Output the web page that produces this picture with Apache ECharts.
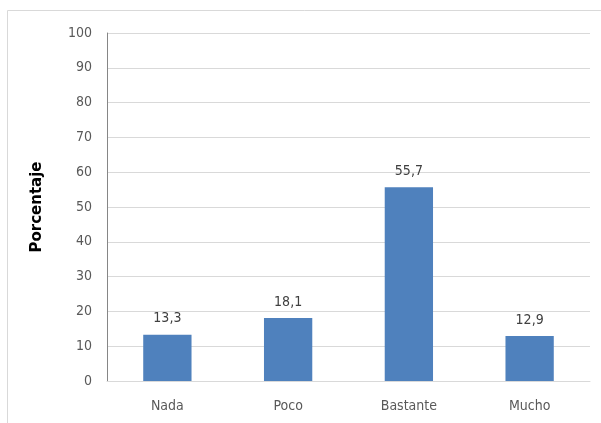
<!DOCTYPE html>
<html>
<head>
<meta charset="utf-8">
<script src="https://cdn.jsdelivr.net/npm/echarts@6/dist/echarts.min.js"></script>
<style>
  html, body { margin: 0; padding: 0; background: #fff; }
  #chart { width: 601px; height: 423px; }
</style>
</head>
<body>
<div id="chart"></div>
<script>
// datos
const categories = ["Nada", "Poco", "Bastante", "Mucho"];
const values = [13.3, 18.1, 55.7, 12.9];
const yTicks = [0, 10, 20, 30, 40, 50, 60, 70, 80, 90, 100];

const font = "'Liberation Sans Narrow', 'DejaVu Sans Condensed', sans-serif";

let chart = echarts.init(document.getElementById("chart"));

chart.setOption({
  animation: false,
  grid: { left: 107, right: 11, top: 33, bottom: 42 },
  graphic: [
    // marco del gráfico (recortado)
    { type: "line", shape: { x1: 7.5, y1: 10.5, x2: 601, y2: 10.5 }, style: { stroke: "#d9d9d9", lineWidth: 1 } },
    { type: "line", shape: { x1: 7.5, y1: 10.5, x2: 7.5, y2: 423 }, style: { stroke: "#d9d9d9", lineWidth: 1 } }
  ],
  xAxis: {
    type: "category",
    data: categories,
    axisTick: { show: false },
    axisLine: { lineStyle: { color: "#d9d9d9" } },
    axisLabel: { color: "#595959", fontFamily: font, fontSize: 14, margin: 18 }
  },
  yAxis: {
    type: "value",
    min: yTicks[0],
    max: yTicks[yTicks.length - 1],
    interval: 10,
    name: "Porcentaje",
    nameLocation: "middle",
    nameGap: 62,
    nameRotate: 90,
    nameTextStyle: { color: "#000", fontWeight: "bold", fontSize: 15, fontFamily: "'DejaVu Sans', sans-serif" },
    axisLine: { show: true, lineStyle: { color: "#868686" } },
    axisTick: { show: false },
    splitLine: { lineStyle: { color: "#d9d9d9" } },
    axisLabel: { color: "#595959", fontFamily: font, fontSize: 14, margin: 15 }
  },
  series: [
    {
      type: "bar",
      data: values,
      barWidth: "40%",
      itemStyle: { color: "#4f81bd" },
      label: {
        show: true,
        position: "top",
        distance: 9,
        color: "#404040",
        fontFamily: font,
        fontSize: 14,
        formatter: p => String(p.value).replace(".", ",")
      }
    }
  ]
});
</script>
</body>
</html>
